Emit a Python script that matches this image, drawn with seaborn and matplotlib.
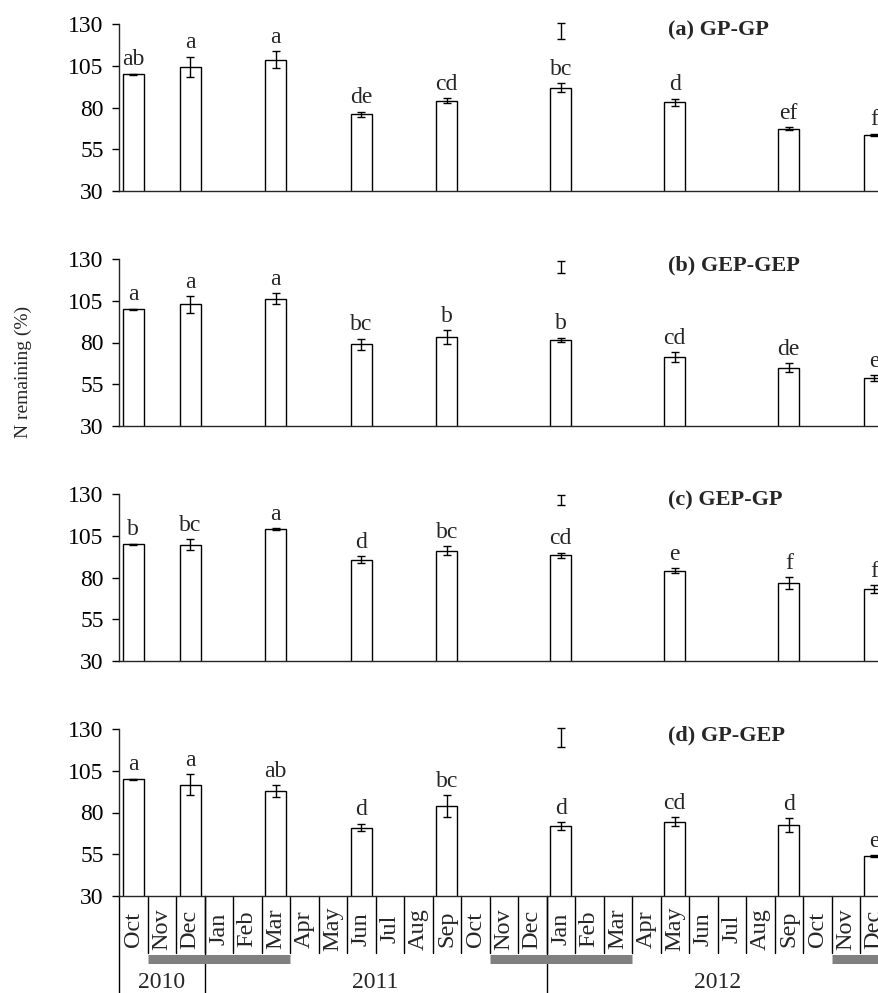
import matplotlib
matplotlib.use("Agg")
import matplotlib.pyplot as plt
import matplotlib.transforms as mtransforms
import seaborn as sns
import pandas as pd

# ---- data ----
months = ["Oct", "Nov", "Dec",
          "Jan", "Feb", "Mar", "Apr", "May", "Jun", "Jul", "Aug", "Sep", "Oct", "Nov", "Dec",
          "Jan", "Feb", "Mar", "Apr", "May", "Jun", "Jul", "Aug", "Sep", "Oct", "Nov", "Dec"]
month_years = [2010] * 3 + [2011] * 12 + [2012] * 12
slots = [f"{m} {y}" for m, y in zip(months, month_years)]

sample_slots = ["Oct 2010", "Dec 2010", "Mar 2011", "Jun 2011", "Sep 2011",
                "Jan 2012", "May 2012", "Sep 2012", "Dec 2012"]

gp_gp_mean = [100, 104.3, 108.6, 75.9, 84.1, 91.9, 83.1, 67.3, 63.5]
gp_gp_err = [0.3, 6.2, 5.2, 1.7, 1.4, 2.6, 2.2, 0.8, 0.8]
gp_gp_letters = ["ab", "a", "a", "de", "cd", "bc", "d", "ef", "f"]

gep_gep_mean = [100, 102.9, 106.3, 79.0, 83.4, 81.6, 71.2, 64.9, 58.7]
gep_gep_err = [0.3, 5.0, 3.2, 3.2, 4.0, 1.3, 3.1, 2.6, 1.6]
gep_gep_letters = ["a", "a", "a", "bc", "b", "b", "cd", "de", "e"]

gep_gp_mean = [100, 99.7, 109.2, 90.7, 96.1, 93.3, 83.9, 76.7, 73.1]
gep_gp_err = [0.3, 3.2, 0.5, 2.1, 2.5, 1.6, 1.5, 3.6, 2.2]
gep_gp_letters = ["b", "bc", "a", "d", "bc", "cd", "e", "f", "f"]

gp_gep_mean = [100, 96.6, 93.0, 71.0, 84.0, 71.8, 74.4, 72.6, 54.0]
gp_gep_err = [0.3, 6.2, 3.5, 2.3, 6.4, 2.5, 2.7, 4.1, 0.6]
gp_gep_letters = ["a", "a", "ab", "d", "bc", "d", "cd", "d", "e"]

panel_titles = ["(a) GP-GP", "(b) GEP-GEP", "(c) GEP-GP", "(d) GP-GEP"]
# LSD bar drawn over Jan 2012 (centre, half length)
lsd_center = [125.8, 125.2, 126.5, 124.8]
lsd_half = [4.8, 3.6, 3.0, 5.5]

year_labels = ["2010", "2011", "2012"]
winter_spans = [("Nov 2010", "Mar 2011"), ("Nov 2011", "Mar 2012"), ("Nov 2012", "Dec 2012")]

panels = [
    (gp_gp_mean, gp_gp_err, gp_gp_letters),
    (gep_gep_mean, gep_gep_err, gep_gep_letters),
    (gep_gp_mean, gep_gp_err, gep_gp_letters),
    (gp_gep_mean, gp_gep_err, gp_gep_letters),
]

# ---- style ----
sns.set_style("ticks")
plt.rcParams["font.family"] = ["Liberation Serif", "DejaVu Serif"]
plt.rcParams["axes.linewidth"] = 1.0

fig = plt.figure(figsize=(8.79, 9.93), dpi=100)
W, H = 879, 993

left_px = 119
slot_px = 28.5
ax_w = len(slots) * slot_px / W   # runs past the right edge, as in the reference
ax_h = 167 / H
bottoms_px = [191, 426, 661, 896]

axes = []
for i, (mean, err, letters) in enumerate(panels):
    ax = fig.add_axes([left_px / W, 1 - bottoms_px[i] / H, ax_w, ax_h])
    axes.append(ax)
    df = pd.DataFrame({"slot": sample_slots, "N": mean})
    sns.barplot(data=df, x="slot", y="N", order=slots, color="white",
                edgecolor="black", linewidth=1.0, width=0.74, saturation=1,
                errorbar=None, ax=ax)
    xpos = [slots.index(s) for s in sample_slots]
    ax.errorbar(xpos, mean, yerr=err, fmt="none", ecolor="black",
                elinewidth=1.0, capsize=3, capthick=1.0)
    for x, m, e, lab in zip(xpos, mean, err, letters):
        ax.text(x, m + e + 5, lab, ha="center", va="baseline", fontsize=17)

    jan12 = slots.index("Jan 2012")
    ax.errorbar([jan12], [lsd_center[i]], yerr=[lsd_half[i]], fmt="none",
                ecolor="black", elinewidth=1.0, capsize=3, capthick=1.0,
                clip_on=False)
    ax.text(18.75, 126, panel_titles[i], ha="left", va="center",
            fontsize=16, fontweight="bold", clip_on=False)

    ax.set_ylim(30, 130)
    ax.set_yticks([30, 55, 80, 105, 130])
    ax.set_xlim(-0.5, len(slots) - 0.5)
    ax.set_xticks([])
    ax.set_xlabel("")
    ax.set_ylabel("")
    ax.tick_params(axis="y", direction="out", length=5, width=1.0,
                   labelsize=17, pad=6, colors="black")
    sns.despine(ax=ax)

fig.text(23 / W, 1 - 372 / H, "N remaining (%)", rotation=90,
         ha="center", va="center", fontsize=14)

# ---- month / year axis under the bottom panel ----
ax = axes[-1]
trans = mtransforms.blended_transform_factory(ax.transData, fig.transFigure)
y_axis = 1 - 896 / H
y_div = 1 - 953 / H
y_bar = 1 - 958.5 / H
y_month = 1 - 929 / H
y_year = 1 - 983 / H

for k, m in enumerate(months):
    ax.text(k, y_month, m, transform=trans, rotation=90, ha="center",
            va="center", fontsize=17.5, clip_on=False)
for k in range(1, len(slots)):
    ax.plot([k - 0.5, k - 0.5], [y_axis, y_div], transform=trans,
            color="black", lw=1.0, clip_on=False)

# year separators
year_starts = [month_years.index(y) for y in (2010, 2011, 2012)]
for s in year_starts:
    ax.plot([s - 0.5, s - 0.5], [y_axis, 0], transform=trans,
            color="black", lw=1.0, clip_on=False)
year_ends = year_starts[1:] + [len(slots)]
for lab, s, e in zip(year_labels, year_starts, year_ends):
    ax.text((s + e - 1) / 2, y_year, lab, transform=trans, ha="center",
            va="center", fontsize=17, clip_on=False)

# winter bars
for a, b in winter_spans:
    x0 = slots.index(a) - 0.5
    x1 = slots.index(b) + 0.5
    if b == slots[-1]:
        x1 += 1
    ax.plot([x0, x1], [y_bar, y_bar], transform=trans, color="#808080",
            lw=6.5, solid_capstyle="butt", clip_on=False)

fig.savefig("out.png", dpi=100)
plt.close(fig)
